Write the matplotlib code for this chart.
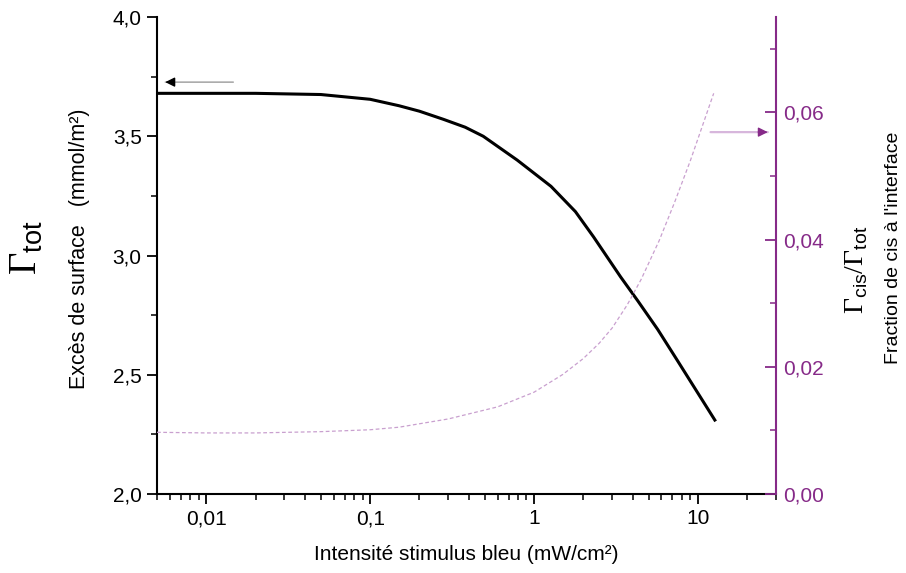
import numpy as np
import matplotlib
matplotlib.use("Agg")
import matplotlib.pyplot as plt
from matplotlib.ticker import FuncFormatter, LogLocator, MultipleLocator

plt.rcParams['font.family'] = ['Liberation Sans', 'DejaVu Sans']
plt.rcParams['mathtext.fontset'] = 'custom'
plt.rcParams['mathtext.rm'] = 'Liberation Serif'
plt.rcParams['mathtext.sf'] = 'Liberation Sans'

# surface excess (left axis)
x_tot = [0.005, 0.01, 0.02, 0.05, 0.1, 0.15, 0.2, 0.28, 0.38, 0.49, 0.79, 1.27,
         1.79, 2.31, 3.38, 4.3, 5.69, 7.5, 12.7]
y_tot = [3.68, 3.68, 3.68, 3.675, 3.655, 3.628, 3.605, 3.571, 3.538, 3.50, 3.40, 3.29,
         3.184, 3.078, 2.91, 2.81, 2.69, 2.56, 2.31]

# cis fraction (right axis)
x_cis = [0.005, 0.01, 0.02, 0.05, 0.1, 0.15, 0.3, 0.6, 1.0, 1.5, 2.0, 2.5,
         3.0, 3.7, 4.5, 5.8, 7.2, 9.0, 12.5]
y_cis = [0.0097, 0.0096, 0.0096, 0.0098, 0.0101, 0.0105, 0.0118, 0.0137,
         0.0160, 0.0188, 0.0213, 0.0237, 0.0261, 0.0297, 0.0337, 0.0398,
         0.0458, 0.0524, 0.063]

purple = '#862a88'

fig = plt.figure(figsize=(9.06, 5.73), dpi=100)
ax = fig.add_axes([0.1733, 0.1379, 0.6832, 0.8324])
ax2 = ax.twinx()

ax.plot(x_tot, y_tot, c='black', lw=2.2, zorder=3)
ax2.plot(x_cis, y_cis, c='#c9a0cf', lw=0.9, ls=(0, (3, 2)))

ax.set_xscale('log')
ax.set_xlim(0.005, 30)
ax.set_ylim(2.0, 4.0)
ax2.set_ylim(0, 0.075)

ax.yaxis.set_major_locator(MultipleLocator(0.5))
ax.yaxis.set_minor_locator(MultipleLocator(0.25))
ax.yaxis.set_major_formatter(FuncFormatter(lambda v, p: ('%.1f' % v).replace('.', ',')))
ax.xaxis.set_major_locator(LogLocator(base=10, numticks=10))
ax.xaxis.set_minor_locator(LogLocator(base=10, subs=np.arange(2, 10), numticks=20))
ax.xaxis.set_major_formatter(FuncFormatter(lambda v, p: ('%g' % v).replace('.', ',')))
ax2.yaxis.set_major_locator(MultipleLocator(0.02))
ax2.yaxis.set_minor_locator(MultipleLocator(0.01))
ax2.yaxis.set_major_formatter(FuncFormatter(lambda v, p: ('%.2f' % v).replace('.', ',')))

ax.spines['top'].set_visible(False)
ax.spines['right'].set_visible(False)
ax2.spines['top'].set_visible(False)
ax2.spines['left'].set_visible(False)
ax2.spines['bottom'].set_visible(False)
ax2.spines['right'].set_color(purple)
for s in ['left', 'bottom']:
    ax.spines[s].set_linewidth(1.5)
ax2.spines['right'].set_linewidth(1.5)

ax.tick_params(which='major', direction='out', length=7, width=1.3, labelsize=15, pad=4)
ax.tick_params(which='minor', direction='out', length=4, width=1.1)
ax.tick_params(axis='x', which='minor', labelbottom=False)
ax2.tick_params(which='major', direction='in', length=8, width=1.3, colors=purple, labelsize=15, pad=5)
ax2.tick_params(which='minor', direction='in', length=4, width=1.1, colors=purple)

ax.set_xlabel('Intensité stimulus bleu (mW/cm²)', fontsize=15, labelpad=12)

# arrows showing which curve belongs to which axis
ax.annotate('', xy=(0.0054, 3.727), xytext=(0.0152, 3.727),
            arrowprops=dict(arrowstyle='-', color='#9a9a9a', lw=1.0))
ax.annotate('', xy=(0.0054, 3.727), xytext=(0.0066, 3.727),
            arrowprops=dict(arrowstyle='-|>', color='black', lw=1.0, mutation_scale=14))
ax2.annotate('', xy=(27.8, 0.0569), xytext=(11.5, 0.0569),
             arrowprops=dict(arrowstyle='-', color='#d7b6dc', lw=1.6))
ax2.annotate('', xy=(27.8, 0.0569), xytext=(22.5, 0.0569),
             arrowprops=dict(arrowstyle='-|>', color=purple, lw=1.0, mutation_scale=14))

fig.text(27 / 906, 1 - 248 / 573, r'$\Gamma_{\mathsf{tot}}$', rotation=90,
         ha='center', va='center', fontsize=28)
fig.text(80 / 906, 1 - 249 / 573, 'Excès de surface   (mmol/m²)', rotation=90,
         ha='center', va='center', fontsize=15.5)
fig.text(857 / 906, 1 - 270 / 573, r'$\Gamma_{\mathsf{cis}}/\Gamma_{\mathsf{tot}}$',
         rotation=90, ha='center', va='center', fontsize=20)
fig.text(893 / 906, 1 - 248 / 573, "Fraction de cis à l'interface", rotation=90,
         ha='center', va='center', fontsize=14)

plt.savefig('out.png', dpi=100)
plt.close()
